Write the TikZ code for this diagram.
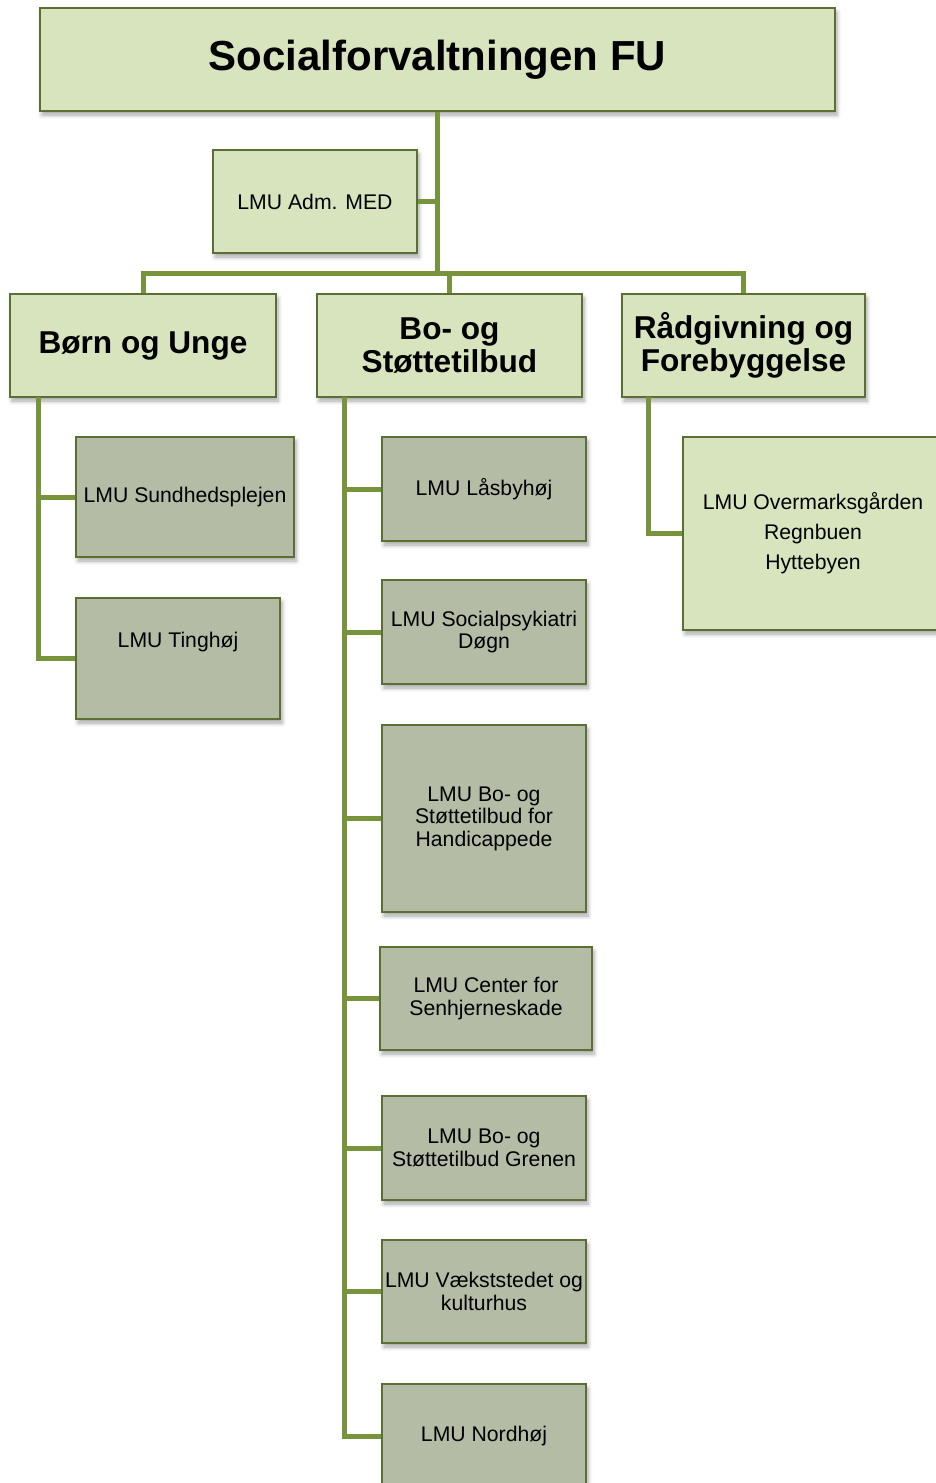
\documentclass[tikz,border=0pt]{standalone}
\usepackage{fontspec}
\setmainfont{Liberation Sans}
\usetikzlibrary{shadows.blur}

\definecolor{paleolive}{HTML}{D7E4BD}
\definecolor{greyolive}{HTML}{B5BCA5}
\definecolor{edgeolive}{HTML}{5B6E33}
\definecolor{linkolive}{HTML}{77933C}

\begin{document}
\begin{tikzpicture}[x=0.5pt,y=-0.5pt,
  box/.style={draw=edgeolive, line width=1pt, fill=paleolive, align=center, inner sep=0pt,
    blur shadow={shadow xshift=1pt, shadow yshift=-2pt, shadow blur steps=6, shadow opacity=35}},
  greybox/.style={box, fill=greyolive},
  small/.style={font=\fontsize{10.6}{11.3}\selectfont},
  head/.style={font=\bfseries\fontsize{15.8}{16.5}\selectfont},
  title/.style={font=\bfseries\fontsize{21}{25}\selectfont},
  link/.style={draw=linkolive, line width=2.5pt, line join=miter}]

\useasboundingbox (0,0) rectangle (936,1483);
\clip (0,0) rectangle (936,1483);

% top level
\node[box, title, minimum width=397.5pt, minimum height=51.5pt] (top) at (437.5,59.5) {Socialforvaltningen FU};
\node[box, small, minimum width=102pt, minimum height=51.5pt] (adm) at (315,201.5) {LMU Adm. MED};

% departments
\node[box, head, minimum width=133pt, minimum height=51.5pt] (born) at (143,345.5) {Børn og Unge};
\node[box, head, minimum width=132.5pt, minimum height=51.5pt] (bo) at (449.5,345.5) {Bo- og\\Støttetilbud};
\node[box, head, minimum width=121.5pt, minimum height=51.5pt] (raad) at (743.5,345.5) {Rådgivning og\\Forebyggelse};

% Børn og Unge
\node[greybox, small, minimum width=109pt, minimum height=60pt] (sund) at (185,497) {LMU Sundhedsplejen};
\node[greybox, minimum width=102pt, minimum height=60.5pt,
  label={[small, yshift=8pt]center:LMU Tinghøj}] (ting) at (178,658.5) {};

% Bo- og Støttetilbud
\node[greybox, small, minimum width=102pt, minimum height=52pt] (laas) at (484,489) {LMU Låsbyhøj};
\node[greybox, small, minimum width=102pt, minimum height=52pt] (psyk) at (484,632) {LMU Socialpsykiatri\\Døgn};
\node[greybox, small, minimum width=102pt, minimum height=93.5pt] (hand) at (484,818.5) {LMU Bo- og\\Støttetilbud for\\Handicappede};
\node[greybox, small, minimum width=106pt, minimum height=51.5pt] (senh) at (486,998.5) {LMU Center for\\Senhjerneskade};
\node[greybox, small, minimum width=102pt, minimum height=52pt] (gren) at (484,1148) {LMU Bo- og\\Støttetilbud Grenen};
\node[greybox, small, minimum width=102pt, minimum height=51.5pt] (vaek) at (484,1291.5) {LMU Vækststedet og\\kulturhus};
\node[greybox, small, minimum width=102pt, minimum height=52pt] (nord) at (484,1436) {LMU Nordhøj};

% Rådgivning og Forebyggelse
\node[box, font=\fontsize{10.6}{15}\selectfont, minimum width=130pt, minimum height=96.5pt] (over) at (813,533.5) {LMU Overmarksgården\\Regnbuen\\Hyttebyen};

% connectors
\coordinate (hub) at (437.5,273);
\coordinate (lspine) at (38,397);
\coordinate (mspine) at (344,397);
\coordinate (rspine) at (648,397);

\draw[link] (top.south) -- (hub);
\draw[link] (adm.east) -- (adm.east -| hub);
\draw[link] (born.north) |- (hub) -| (raad.north);
\draw[link] (bo.north) -- (bo.north |- hub);

\draw[link] (lspine) |- (sund.west);
\draw[link] (lspine) |- (ting.west);

\draw[link] (mspine) |- (laas.west);
\draw[link] (mspine) |- (psyk.west);
\draw[link] (mspine) |- (hand.west);
\draw[link] (mspine) |- (senh.west);
\draw[link] (mspine) |- (gren.west);
\draw[link] (mspine) |- (vaek.west);
\draw[link] (mspine) |- (nord.west);

\draw[link] (rspine) |- (over.west);
\end{tikzpicture}
\end{document}
